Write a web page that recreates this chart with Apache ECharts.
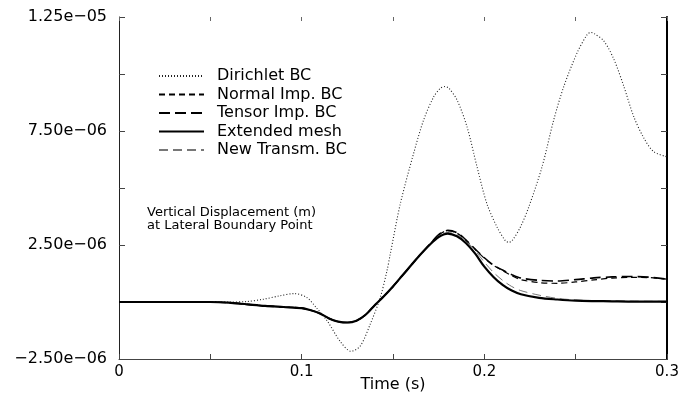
<!DOCTYPE html>
<html>
<head>
<meta charset="utf-8">
<script src="https://cdn.jsdelivr.net/npm/echarts@6/dist/echarts.min.js"></script>
<style>
  html, body { margin: 0; background: #fff; }
  #chart { width: 693px; height: 397px; }
</style>
</head>
<body>
<div id="chart"></div>
<script>
// displacement values are in units of 1e-6 m
const tGrid = [0, 0.02, 0.04, 0.05, 0.06, 0.07, 0.08, 0.09, 0.1, 0.105, 0.11, 0.115, 0.12, 0.125, 0.13, 0.135,
  0.14, 0.145, 0.15, 0.155, 0.16, 0.165, 0.17, 0.175, 0.18, 0.185, 0.19, 0.195, 0.2, 0.205, 0.21, 0.215,
  0.22, 0.23, 0.24, 0.25, 0.26, 0.27, 0.28, 0.29, 0.3];

const extendedMesh = [0, 0, 0, 0, -0.03, -0.1, -0.17, -0.22, -0.27, -0.36, -0.5, -0.72, -0.86, -0.9, -0.82, -0.56,
  -0.14, 0.25, 0.68, 1.15, 1.62, 2.08, 2.5, 2.85, 3.0, 2.88, 2.58, 2.12, 1.55, 1.1, 0.75, 0.5,
  0.34, 0.18, 0.11, 0.06, 0.04, 0.03, 0.02, 0.02, 0.02];

const newTransm = [0, 0, 0, 0, -0.03, -0.1, -0.17, -0.22, -0.27, -0.36, -0.5, -0.72, -0.86, -0.9, -0.82, -0.56,
  -0.14, 0.25, 0.68, 1.15, 1.62, 2.08, 2.52, 2.88, 3.05, 2.95, 2.68, 2.25, 1.75, 1.3, 0.95, 0.68,
  0.5, 0.3, 0.16, 0.09, 0.06, 0.05, 0.04, 0.03, 0.03];

const normalImp = [0, 0, 0, 0, -0.03, -0.1, -0.17, -0.22, -0.27, -0.36, -0.5, -0.72, -0.86, -0.9, -0.82, -0.56,
  -0.14, 0.25, 0.68, 1.15, 1.62, 2.08, 2.52, 2.94, 3.13, 3.02, 2.7, 2.3, 1.92, 1.6, 1.38, 1.15,
  0.98, 0.85, 0.82, 0.88, 0.97, 1.05, 1.08, 1.07, 1.0];

const tensorImp = [0, 0, 0, 0, -0.03, -0.1, -0.17, -0.22, -0.27, -0.36, -0.5, -0.72, -0.86, -0.9, -0.82, -0.56,
  -0.14, 0.25, 0.68, 1.15, 1.62, 2.08, 2.52, 2.95, 3.14, 3.04, 2.72, 2.32, 1.94, 1.62, 1.4, 1.2,
  1.05, 0.95, 0.92, 0.98, 1.06, 1.1, 1.12, 1.09, 1.0];

const dirT = [0, 0.04, 0.06, 0.07, 0.079, 0.088, 0.096, 0.103, 0.108, 0.114, 0.121, 0.127, 0.132, 0.1375,
  0.143, 0.1467, 0.1485, 0.154, 0.1613, 0.1668, 0.1723, 0.176, 0.1783, 0.1805, 0.185, 0.1905, 0.196,
  0.2014, 0.207, 0.2115, 0.2134, 0.2152, 0.2197, 0.2243, 0.2316, 0.238, 0.2435, 0.2508, 0.2563, 0.2582,
  0.26, 0.2655, 0.271, 0.2764, 0.2818, 0.2874, 0.2928, 0.3];
const dirichlet = [0, 0, 0, 0.02, 0.12, 0.27, 0.37, 0.19, -0.25, -0.83, -1.72, -2.16, -1.94, -0.98,
  0.19, 1.37, 2.1, 4.31, 6.52, 7.99, 9.0, 9.38, 9.45, 9.38, 8.87, 7.69, 5.93,
  4.31, 3.28, 2.69, 2.62, 2.69, 3.28, 4.16, 5.93, 7.99, 9.45, 10.93, 11.73, 11.82,
  11.78, 11.44, 10.63, 9.45, 8.13, 7.18, 6.59, 6.37];

const legendNames = ['Dirichlet BC', 'Normal Imp. BC', 'Tensor Imp. BC', 'Extended mesh', 'New Transm. BC'];
const noteLines = ['Vertical Displacement (m)', 'at Lateral Boundary Point'];

const FONT = 'DejaVu Sans';

function pairs(xs, ys) {
  return ys.map((v, i) => [xs[i], v]);
}

// 7.5 -> "7.50e-06" with typographic minus signs
function sci(v) {
  let s = (v * 1e-6).toExponential(2);
  let [m, e] = s.split('e');
  let sign = e[0] === '-' ? '\u2212' : '+';
  let digits = e.replace(/[+-]/, '').padStart(2, '0');
  return m.replace('-', '\u2212') + 'e' + sign + digits;
}

const chart = echarts.init(document.getElementById('chart'));

const option = {
  animation: false,
  grid: { left: 119, right: 26, top: 17, bottom: 38, outerBoundsMode: 'none' },
  legend: {
    orient: 'vertical',
    left: 158,
    top: 68,
    padding: 0,
    itemWidth: 45,
    itemHeight: 14,
    itemGap: 2.5,
    data: legendNames,
    itemStyle: { opacity: 0 },
    textStyle: { fontFamily: FONT, fontSize: 16, lineHeight: 16, color: '#000', padding: [0, 0, 0, 8] }
  },
  graphic: [{
    type: 'text',
    left: 147,
    top: 206,
    style: {
      text: noteLines.join('\n'),
      font: '13px "' + FONT + '"',
      lineHeight: 13,
      fill: '#000'
    }
  }],
  xAxis: [{
    type: 'value',
    min: 0, max: 0.3, interval: 0.05,
    name: 'Time (s)',
    nameLocation: 'middle',
    nameGap: 18,
    nameMoveOverlap: false,
    nameTextStyle: { fontFamily: FONT, fontSize: 16, color: '#000', verticalAlign: 'top' },
    axisLine: { onZero: false, lineStyle: { color: '#444', width: 1 } },
    axisTick: { inside: true, length: 5, lineStyle: { color: '#444' } },
    axisLabel: {
      fontFamily: FONT, fontSize: 15, color: '#000', margin: 6,
      formatter: v => (Math.round(v * 100) % 10 === 0 ? String(Math.round(v * 10) / 10) : '')
    },
    splitLine: { show: false }
  }, {
    type: 'value', position: 'top',
    min: 0, max: 0.3, interval: 0.05,
    axisLine: { show: false, onZero: false },
    axisTick: { inside: true, length: 4, lineStyle: { color: '#666' } },
    axisLabel: { show: false },
    splitLine: { show: false }
  }],
  yAxis: [{
    type: 'value',
    min: -2.5, max: 12.5, interval: 2.5,
    axisLine: { show: true, onZero: false, lineStyle: { color: '#222', width: 1 } },
    axisTick: { show: true, inside: true, length: 6, lineStyle: { color: '#444' } },
    axisLabel: {
      fontFamily: FONT, fontSize: 16, color: '#000', margin: 12,
      formatter: v => (Math.round((v + 2.5) / 2.5) % 2 === 0 ? sci(v) : '')
    },
    splitLine: { show: false }
  }, {
    type: 'value', position: 'right',
    min: -2.5, max: 12.5, interval: 2.5,
    axisLine: { show: true, onZero: false, lineStyle: { color: '#000', width: 2 } },
    axisTick: { show: true, inside: true, length: 6, lineStyle: { color: '#444' } },
    axisLabel: { show: false },
    splitLine: { show: false }
  }],
  series: [{
    name: 'Dirichlet BC', type: 'line', symbol: 'none', smooth: 0.3,
    data: pairs(dirT, dirichlet),
    lineStyle: { color: '#222', width: 1.1, type: [1, 2] },
    itemStyle: { color: '#222' }
  }, {
    name: 'Normal Imp. BC', type: 'line', symbol: 'none', smooth: 0.3,
    data: pairs(tGrid, normalImp),
    lineStyle: { color: '#000', width: 1.2, type: [6, 4] },
    itemStyle: { color: '#000' }
  }, {
    name: 'Tensor Imp. BC', type: 'line', symbol: 'none', smooth: 0.3,
    data: pairs(tGrid, tensorImp),
    lineStyle: { color: '#000', width: 1.6, type: [11, 5] },
    itemStyle: { color: '#000' }
  }, {
    name: 'New Transm. BC', type: 'line', symbol: 'none', smooth: 0.3,
    data: pairs(tGrid, newTransm),
    lineStyle: { color: '#777', width: 1, type: [9, 5] },
    itemStyle: { color: '#777' }
  }, {
    name: 'Extended mesh', type: 'line', symbol: 'none', smooth: 0.3,
    data: pairs(tGrid, extendedMesh),
    lineStyle: { color: '#000', width: 2.2 },
    itemStyle: { color: '#000' }
  }]
};

chart.setOption(option);
</script>
</body>
</html>
